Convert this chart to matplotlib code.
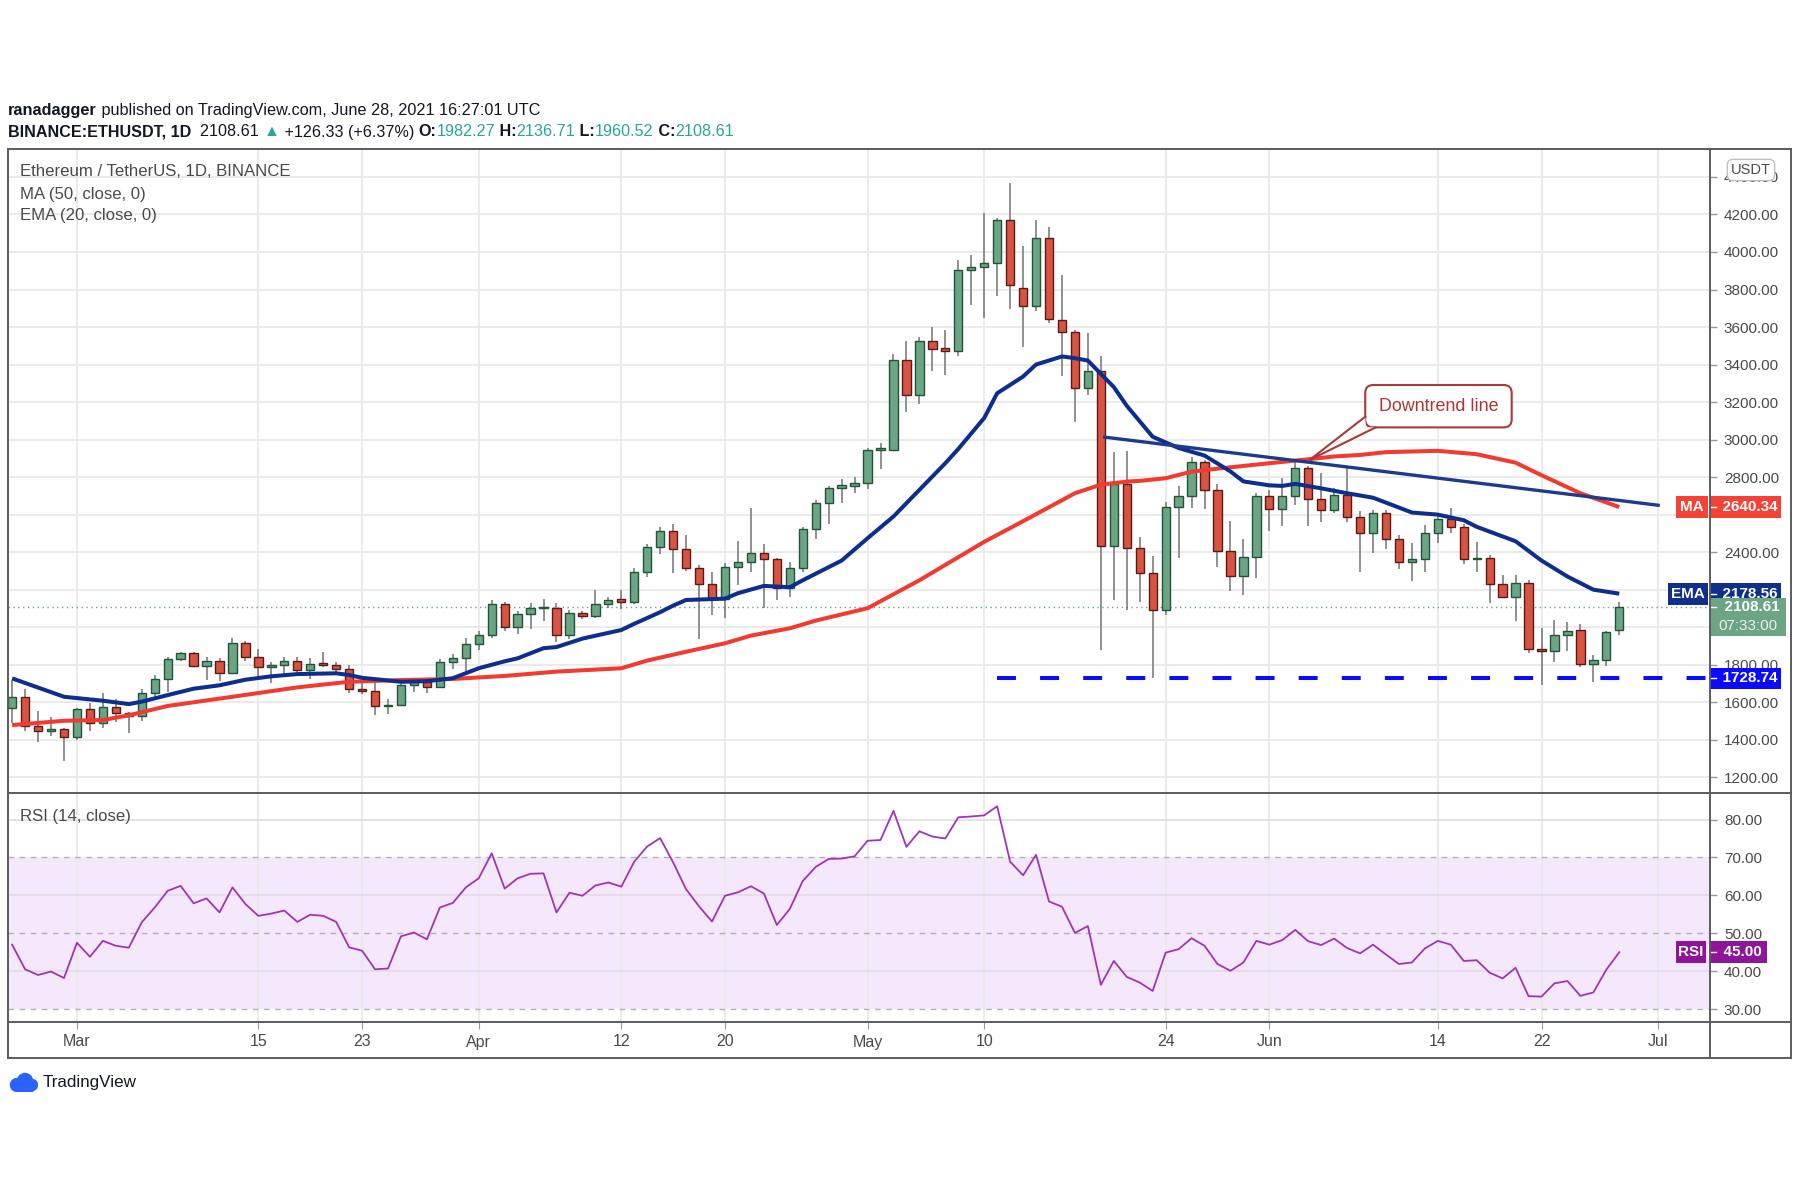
import numpy as np
import pandas as pd
import matplotlib
matplotlib.use("Agg")
import matplotlib.pyplot as plt
import matplotlib.lines as mlines
from matplotlib import font_manager
from matplotlib.patches import Rectangle, FancyBboxPatch, Polygon, Circle
from matplotlib.transforms import blended_transform_factory

# ---- data ----
dates = pd.date_range("2021-02-24", "2021-06-28", freq="D")

opens = [1570, 1626, 1475, 1446, 1459, 1416, 1564, 1487, 1575, 1541,
         1526, 1648, 1722, 1830, 1864, 1793, 1820, 1758, 1917, 1840,
         1786, 1800, 1820, 1770, 1805, 1798, 1778, 1672, 1659, 1578,
         1584, 1690, 1709, 1679, 1812, 1834, 1910, 1958, 2124, 2003,
         2070, 2100, 2104, 1958, 2078, 2061, 2124, 2149, 2133, 2293,
         2426, 2510, 2417, 2314, 2229, 2150, 2319, 2350, 2394, 2364,
         2211, 2314, 2524, 2664, 2740, 2753, 2768, 2945, 2945, 3426,
         3236, 3524, 3486, 3472, 3905, 3920, 3941, 4172, 3807, 3710,
         4074, 3638, 3576, 3277, 3368, 2433, 2763, 2424, 2287, 2092,
         2640, 2697, 2878, 2732, 2406, 2273, 2376, 2697, 2629, 2697,
         2851, 2684, 2622, 2705, 2587, 2504, 2608, 2469, 2349, 2362,
         2504, 2575, 2536, 2362, 2370, 2230, 2159, 2237, 1882, 1875,
         1958, 1985, 1804, 1825, 1982.27]
highs = [1718, 1669, 1555, 1519, 1464, 1567, 1594, 1651, 1617, 1549,
         1669, 1745, 1843, 1870, 1869, 1843, 1834, 1941, 1926, 1882,
         1816, 1843, 1843, 1834, 1866, 1816, 1798, 1718, 1731, 1617,
         1709, 1727, 1724, 1828, 1857, 1941, 1981, 2145, 2136, 2086,
         2127, 2150, 2127, 2090, 2086, 2198, 2163, 2198, 2314, 2442,
         2536, 2549, 2492, 2332, 2293, 2344, 2461, 2637, 2442, 2367,
         2349, 2536, 2678, 2753, 2789, 2800, 2954, 2981, 3457, 3524,
         3549, 3599, 3585, 3958, 3985, 4207, 4181, 4366, 4033, 4172,
         4131, 3878, 3585, 3567, 3443, 2936, 2937, 2483, 2380, 2669,
         2750, 2909, 2890, 2764, 2568, 2469, 2714, 2732, 2794, 2883,
         2860, 2820, 2741, 2847, 2621, 2625, 2625, 2492, 2447, 2545,
         2603, 2634, 2550, 2456, 2385, 2277, 2277, 2252, 1994, 2038,
         2029, 2017, 1852, 1981, 2136.71]
lows = [1487, 1448, 1389, 1420, 1286, 1398, 1448, 1464, 1496, 1434,
        1501, 1621, 1656, 1821, 1789, 1718, 1713, 1754, 1821, 1718,
        1704, 1733, 1763, 1724, 1789, 1745, 1647, 1642, 1532, 1537,
        1580, 1656, 1651, 1674, 1775, 1757, 1878, 1941, 1981, 1962,
        1990, 2033, 1919, 1935, 2042, 2047, 2101, 2097, 2124, 2269,
        2389, 2291, 2301, 1935, 2065, 2047, 2225, 2296, 2101, 2145,
        2159, 2296, 2469, 2549, 2661, 2717, 2737, 2842, 2937, 3149,
        3190, 3363, 3345, 3443, 3718, 3647, 3763, 3696, 3493, 3688,
        3624, 3340, 3096, 3238, 1878, 2145, 2092, 2136, 1729, 2065,
        2367, 2634, 2630, 2319, 2195, 2172, 2261, 2515, 2541, 2652,
        2541, 2560, 2608, 2563, 2296, 2394, 2415, 2310, 2248, 2296,
        2451, 2501, 2337, 2296, 2131, 2154, 2033, 1861, 1692, 1813,
        1873, 1786, 1706, 1793, 1960.52]
closes = [1626, 1475, 1446, 1459, 1416, 1564, 1487, 1575, 1541, 1526,
          1648, 1722, 1830, 1864, 1793, 1820, 1758, 1917, 1840, 1786,
          1800, 1820, 1770, 1805, 1798, 1778, 1672, 1659, 1578, 1584,
          1690, 1709, 1679, 1812, 1834, 1910, 1958, 2124, 2003, 2070,
          2100, 2105, 1958, 2078, 2061, 2124, 2145, 2133, 2293, 2426,
          2510, 2417, 2314, 2229, 2150, 2322, 2350, 2394, 2362, 2211,
          2314, 2524, 2664, 2740, 2758, 2771, 2945, 2950, 3426, 3236,
          3524, 3484, 3472, 3905, 3920, 3941, 4172, 3822, 3710, 4074,
          3642, 3576, 3277, 3368, 2433, 2763, 2424, 2287, 2092, 2640,
          2697, 2878, 2732, 2406, 2273, 2376, 2697, 2629, 2697, 2851,
          2684, 2622, 2705, 2587, 2504, 2608, 2469, 2349, 2362, 2504,
          2575, 2536, 2362, 2370, 2230, 2159, 2237, 1882, 1875, 1958,
          1980, 1804, 1825, 1973, 2108.61]

# moving averages, read at points along the lines (days since Feb 24)
ma50_day = [0, 4, 7, 9, 12, 17, 22, 26, 30, 34, 38, 42, 47, 49, 52, 55, 57, 60, 62,
            66, 70, 75, 78, 82, 84, 86, 87, 89, 91, 93, 97, 99, 100, 102, 104, 106,
            110, 113, 116, 118, 121, 124]
ma50_val = [1478, 1501, 1505, 1530, 1580, 1629, 1679, 1709, 1718, 1724, 1740, 1763,
            1781, 1822, 1869, 1914, 1955, 1994, 2035, 2101, 2250, 2455, 2565, 2714,
            2760, 2776, 2780, 2794, 2829, 2845, 2874, 2888, 2895, 2910, 2918, 2933,
            2940, 2922, 2877, 2810, 2714, 2640.34]
ema20_day = [0, 4, 7, 9, 10, 12, 14, 16, 18, 20, 22, 25, 26, 27, 30, 32, 34, 36, 38,
             39, 41, 42, 44, 47, 48, 50, 51, 52, 55, 56, 58, 60, 61, 64, 66, 68, 69,
             72, 73, 75, 76, 78, 79, 81, 82, 83, 85, 86, 88, 90, 92, 94, 95, 97, 98,
             99, 101, 103, 105, 106, 108, 110, 112, 113, 116, 118, 120, 122, 124]
ema20_val = [1727, 1629, 1608, 1590, 1603, 1638, 1672, 1690, 1720, 1738, 1750, 1754,
             1745, 1730, 1709, 1712, 1728, 1781, 1818, 1834, 1888, 1894, 1939, 1985,
             2018, 2080, 2115, 2145, 2152, 2181, 2220, 2213, 2250, 2355, 2474, 2590,
             2661, 2874, 2950, 3115, 3247, 3336, 3400, 3443, 3434, 3421, 3280, 3180,
             3015, 2955, 2915, 2830, 2777, 2756, 2753, 2764, 2740, 2714, 2690, 2664,
             2611, 2600, 2570, 2535, 2458, 2355, 2270, 2200, 2178.56]

rsi = [47.0, 40.5, 39.0, 39.9, 38.2, 47.5, 43.8, 48.0, 46.7, 46.2,
       52.9, 56.8, 61.2, 62.5, 57.9, 59.2, 55.5, 62.1, 57.7, 54.6,
       55.2, 56.0, 53.0, 54.9, 54.6, 53.0, 46.3, 45.4, 40.5, 40.7,
       49.2, 50.2, 48.4, 56.8, 58.0, 62.1, 64.5, 71.1, 61.8, 64.5,
       65.7, 65.8, 55.5, 60.7, 59.9, 62.6, 63.4, 62.3, 68.9, 72.9,
       75.1, 68.7, 61.6, 57.1, 53.1, 59.9, 60.8, 62.4, 60.5, 52.2,
       56.4, 63.8, 67.5, 69.6, 69.7, 70.3, 74.4, 74.6, 82.3, 72.8,
       76.9, 75.5, 75.0, 80.6, 80.8, 81.1, 83.5, 68.9, 65.3, 70.7,
       58.4, 57.0, 50.1, 51.9, 36.4, 42.7, 38.5, 37.0, 34.8, 44.9,
       45.8, 48.7, 46.7, 41.9, 40.1, 42.3, 48.0, 47.0, 48.2, 50.9,
       47.9, 46.9, 48.6, 46.1, 44.7, 47.0, 44.4, 41.9, 42.3, 46.0,
       48.0, 47.0, 42.7, 42.9, 39.6, 38.1, 40.9, 33.4, 33.3, 36.8,
       37.4, 33.5, 34.4, 40.4, 45.0]

support_level = 1728.74
trend_start = ("2021-05-19", 3013)
trend_end = ("2021-07-01", 2650)

tick_dates = ["2021-03-01", "2021-03-15", "2021-03-23", "2021-04-01", "2021-04-12",
              "2021-04-20", "2021-05-01", "2021-05-10", "2021-05-24", "2021-06-01",
              "2021-06-14", "2021-06-22", "2021-07-01"]
tick_labels = ["Mar", "15", "23", "Apr", "12", "20", "May", "10", "24", "Jun",
               "14", "22", "Jul"]
# price scale labels that the value tags cover completely
hidden_price_labels = [2000, 2200, 2600]

# ---- style ----
installed = {f.name for f in font_manager.fontManager.ttflist}
FONT = "Liberation Sans Narrow" if "Liberation Sans Narrow" in installed else "Liberation Sans"
plt.rcParams["font.family"] = [FONT, "DejaVu Sans"]

UP, UP_EDGE = "#6ba583", "#225437"
DN, DN_EDGE = "#d75442", "#5b1a13"
WICK = "#737375"
MA_C, EMA_C = "#f23b30", "#0e2e8e"
GRID = "#e8e8e8"
TXT = "#4a4a4a"
FRAME = "#5a5c60"

W, H = 1800, 1200
def fx(px):
    return px / W
def fy(py):
    return 1 - py / H

t0 = dates[0]
def day(d):
    return (pd.Timestamp(d) - t0).days

x = np.arange(len(dates))
o, h, l, c = map(np.asarray, (opens, highs, lows, closes))

fig = plt.figure(figsize=(18, 12), dpi=100)
fig.patch.set_facecolor("white")
renderer = fig.canvas.get_renderer()

L, R = 8, 1710
ax = fig.add_axes([fx(L), fy(793), fx(R) - fx(L), fy(149) - fy(793)])
ax_r = fig.add_axes([fx(L), fy(1022), fx(R) - fx(L), fy(793) - fy(1022)], sharex=ax)

PRICE_LIM = (1116, 4549)
RSI_LIM = (26.6, 87.0)
ax.set_xlim(-0.32, 131.0)
ax.set_ylim(*PRICE_LIM)
ax_r.set_ylim(*RSI_LIM)

for a in (ax, ax_r):
    for sp in a.spines.values():
        sp.set_visible(False)
    a.yaxis.tick_right()
    a.tick_params(axis="y", direction="out", length=5, width=1, color="#9a9a9a",
                  labelcolor=TXT, labelsize=11, pad=5)

xt = [day(d) for d in tick_dates]
ax.tick_params(axis="x", length=0, labelbottom=False)
ax_r.set_xticks(xt)
ax_r.set_xticklabels(tick_labels)
ax_r.tick_params(axis="x", direction="out", length=5, color="#9a9a9a",
                 labelcolor=TXT, labelsize=11.5, pad=4)

# grids
price_ticks = np.arange(1200, 4401, 200)
ax.set_yticks(price_ticks)
ax.set_yticklabels(["" if v in hidden_price_labels else f"{v:.2f}" for v in price_ticks])
for v in price_ticks:
    ax.axhline(v, color=GRID, lw=1.2, zorder=0)
for v in xt:
    ax.axvline(v, color=GRID, lw=1.2, zorder=0)
    ax_r.axvline(v, color=GRID, lw=1.2, zorder=1)

# candles
up = c >= o
body_lo = np.minimum(o, c)
body_h = np.maximum(np.abs(c - o), 9)
ax.vlines(x, l, h, color=WICK, lw=1.1, zorder=3)
ax.bar(x[up], body_h[up], bottom=body_lo[up], width=0.64, color=UP,
       edgecolor=UP_EDGE, lw=1.0, zorder=4)
ax.bar(x[~up], body_h[~up], bottom=body_lo[~up], width=0.64, color=DN,
       edgecolor=DN_EDGE, lw=1.0, zorder=4)

# indicators
ax.plot(ma50_day, ma50_val, color=MA_C, lw=2.9, zorder=5, solid_capstyle="butt")
ax.plot(ema20_day, ema20_val, color=EMA_C, lw=2.9, zorder=5, solid_capstyle="butt")

# last price dotted line
ax.axhline(closes[-1], color=UP, lw=1.0, ls=(0, (1, 2.5)), zorder=2)

# support line
ax.plot([day("2021-05-11"), 131.0], [support_level, support_level], color="#0a0aff",
        lw=2.9, ls=(0, (4.7, 6.0)), zorder=6, solid_capstyle="butt")

# downtrend line
ax.plot([day(trend_start[0]) + 0.3, day(trend_end[0])], [trend_start[1], trend_end[1]],
        color="#1d3b8c", lw=2.4, zorder=6)

# callout
bx0, by0, bw, bh = 104.4, 3065, 11.3, 226
anchor = (100.1, 2891)
tail_a = (104.4, 3122)
tail_b = (105.2, 3065)
box = FancyBboxPatch((bx0, by0), bw, bh, boxstyle="round,pad=0,rounding_size=0.62",
                     mutation_aspect=69, fc="white", ec="#a83a3a", lw=1.5, zorder=7)
ax.add_patch(box)
ax.add_patch(Polygon([anchor, tail_a, (bx0 + 0.05, by0 + 0.5), tail_b], closed=True,
                     fc="white", ec="none", zorder=7.5))
ax.plot([tail_a[0], anchor[0], tail_b[0]], [tail_a[1], anchor[1], tail_b[1]],
        color="#a83a3a", lw=1.5, zorder=8, solid_joinstyle="miter")
ct = ax.text(bx0 + bw / 2, by0 + bh / 2, "Downtrend line", color="#b03535",
             ha="center", va="center", fontsize=13, zorder=9)

# RSI pane
ax_r.axhspan(30, 70, color="#f4e8fd", zorder=0, lw=0)
for v in (80, 60, 40):
    ax_r.axhline(v, color="#e2dce6", lw=1.2, zorder=1)
for v in (70, 50, 30):
    ax_r.axhline(v, color="#b5aeb9", lw=1.0, ls=(0, (4, 4)), zorder=1)
rsi_ticks = np.arange(30, 81, 10)
ax_r.set_yticks(rsi_ticks)
ax_r.set_yticklabels([f"{v:.2f}" for v in rsi_ticks])
ax_r.plot(x, rsi, color="#a034b8", lw=1.3, zorder=3)

# ---- value tags on the right scale ----
def ax_frac(px):
    return (px - L) / (R - L)

def tag(a, y, lim, hpx, fc, x0, x1, text, fs=11):
    per_px = (lim[1] - lim[0]) / (a.get_window_extent(renderer).height)
    tr = blended_transform_factory(a.transAxes, a.transData)
    a.add_patch(Rectangle((ax_frac(x0), y - hpx * per_px / 2), ax_frac(x1) - ax_frac(x0),
                          hpx * per_px, transform=tr, fc=fc, ec="none",
                          clip_on=False, zorder=10))
    a.text(ax_frac((x0 + x1) / 2), y, text, transform=tr, ha="center", va="center",
           color="white", fontsize=fs, fontweight="bold", clip_on=False, zorder=11)

def tick_mark(a, y):
    tr = blended_transform_factory(a.transAxes, a.transData)
    a.plot([ax_frac(1711), ax_frac(1716)], [y, y], transform=tr, color="white",
           lw=1, clip_on=False, zorder=12)

ma_last, ema_last = ma50_val[-1], ema20_val[-1]
tag(ax, ma_last, PRICE_LIM, 22, "#f44336", 1676, 1708, "MA")
tag(ax, ma_last, PRICE_LIM, 22, "#f44336", 1710, 1781, f"  {ma_last:.2f}")
tick_mark(ax, ma_last)
tag(ax, ema_last, PRICE_LIM, 22, "#102f8a", 1668, 1708, "EMA")
tag(ax, ema_last, PRICE_LIM, 22, "#102f8a", 1710, 1781, f"  {ema_last:.2f}")
tick_mark(ax, ema_last)

# last price tag with countdown
per_px = (PRICE_LIM[1] - PRICE_LIM[0]) / ax.get_window_extent(renderer).height
trp = blended_transform_factory(ax.transAxes, ax.transData)
ax.add_patch(Rectangle((ax_frac(1710), closes[-1] - 29 * per_px), ax_frac(1786) - ax_frac(1710),
                       38 * per_px, transform=trp, fc=UP, ec="none", clip_on=False, zorder=10))
ax.text(ax_frac(1748), closes[-1], f"  {closes[-1]:.2f}", transform=trp, ha="center",
        va="center", color="white", fontsize=11, fontweight="bold", clip_on=False, zorder=11)
ax.text(ax_frac(1748), closes[-1] - 19 * per_px, "07:33:00", transform=trp, ha="center",
        va="center", color="#e8f2ec", fontsize=11, clip_on=False, zorder=11)
tick_mark(ax, closes[-1])

tag(ax, support_level, PRICE_LIM, 21, "#0a0aff", 1710, 1781, f"  {support_level:.2f}")
tick_mark(ax, support_level)

tag(ax_r, rsi[-1], RSI_LIM, 22, "#8e1599", 1676, 1706, "RSI")
tag(ax_r, rsi[-1], RSI_LIM, 22, "#8e1599", 1710, 1767, f"  {rsi[-1]:.2f}")
tick_mark(ax_r, rsi[-1])

fig.text(fx(1751), fy(170), "USDT", ha="center", va="center", fontsize=10.5, color=TXT,
         zorder=20, bbox=dict(boxstyle="round,pad=0.25,rounding_size=0.4", fc="white",
                              ec="#c0c0c0", lw=1))

# ---- frame ----
def fline(x0, y0, x1, y1, lw=1.4):
    fig.add_artist(mlines.Line2D([fx(x0), fx(x1)], [fy(y0), fy(y1)],
                                 transform=fig.transFigure, color=FRAME, lw=lw))

fline(8, 149, 1791, 149)
fline(8, 1058, 1791, 1058)
fline(8, 149, 8, 1058)
fline(1791, 149, 1791, 1058)
fline(1710, 149, 1710, 1058)
fline(8, 793, 1791, 793)
fline(8, 1022, 1791, 1022)

# ---- texts ----
def fit(t, target):
    w = t.get_window_extent(renderer).width
    t.set_fontsize(t.get_fontsize() * target / w)

def segments(y, parts, target, size=12.0):
    def lay(sz):
        xs, made = 8, []
        for s, col, wt in parts:
            t = fig.text(fx(xs), fy(y), s, color=col, fontweight=wt, fontsize=sz,
                         ha="left", va="center")
            xs += t.get_window_extent(renderer).width
            made.append(t)
        return made, xs - 8
    made, width = lay(size)
    for t in made:
        t.remove()
    lay(size * target / width)

DARK, TEAL = "#131722", "#26a69a"
segments(110, [("ranadagger", DARK, "bold"),
               (" published on TradingView.com, June 28, 2021 16:27:01 UTC", DARK, "normal")],
         532)
segments(132, [("BINANCE:ETHUSDT, 1D", DARK, "bold"), ("  2108.61 ", DARK, "normal"),
               ("\u25b2", TEAL, "normal"), (" +126.33 (+6.37%) ", DARK, "normal"),
               ("O:", DARK, "bold"), ("1982.27", TEAL, "normal"),
               (" H:", DARK, "bold"), ("2136.71", TEAL, "normal"),
               (" L:", DARK, "bold"), ("1960.52", TEAL, "normal"),
               (" C:", DARK, "bold"), ("2108.61", TEAL, "normal")], 722)

t1 = fig.text(fx(19.5), fy(172), "Ethereum / TetherUS, 1D, BINANCE", color=TXT,
              fontsize=12, ha="left", va="center")
fit(t1, 271)
fs_leg = t1.get_fontsize()
fig.text(fx(19.5), fy(194), "MA (50, close, 0)", color=TXT, fontsize=fs_leg,
         ha="left", va="center")
fig.text(fx(19.5), fy(216), "EMA (20, close, 0)", color=TXT, fontsize=fs_leg,
         ha="left", va="center")
fig.text(fx(19.5), fy(816), "RSI (14, close)", color=TXT, fontsize=fs_leg,
         ha="left", va="center")
fit(ct, 119)

# TradingView logo
lax = fig.add_axes([fx(8), fy(1092), fx(38) - fx(8), fy(1072) - fy(1092)])
lax.set_xlim(0, 30)
lax.set_ylim(0, 20)
lax.axis("off")
for cx, cy, r in ((9, 7, 6.5), (17, 11, 7.5), (24, 7, 5.5)):
    lax.add_patch(Circle((cx, cy), r, color="#2962ff"))
lax.add_patch(Rectangle((9, 0.5), 15, 6, color="#2962ff"))
tv = fig.text(fx(43), fy(1083), "TradingView", color=DARK, fontsize=12,
              ha="left", va="center")
fit(tv, 94)

fig.savefig("out.png", dpi=100, facecolor="white")
